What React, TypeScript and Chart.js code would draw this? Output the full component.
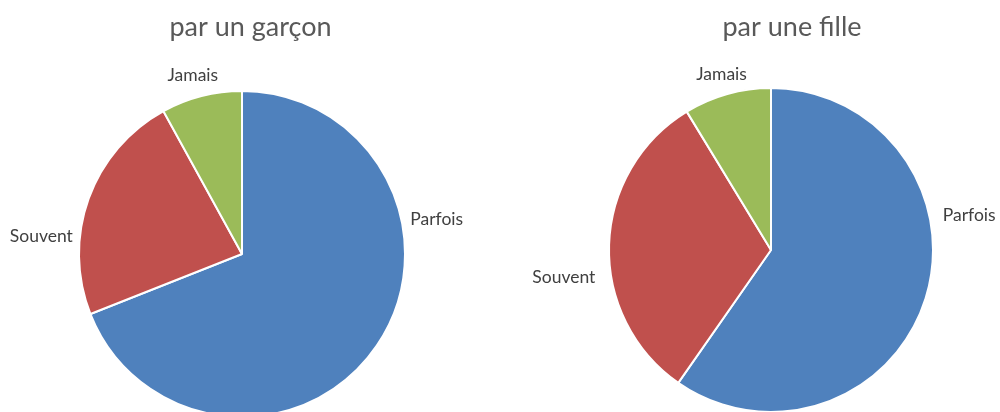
import React, { useEffect, useRef } from "react";
import { Chart, registerables } from "chart.js";

Chart.register(...registerables);

// ---- Data ----
const categories = ["Parfois", "Souvent", "Jamais"];
const garconValues = [69, 23, 8];
const filleValues = [59.7, 31.6, 8.7];
const titles = ["par un garçon", "par une fille"];
const sliceColors = ["#4F81BD", "#C0504D", "#9BBB59"];

const FONT = "Lato, 'Open Sans', 'DejaVu Sans', sans-serif";

type Placement = { angle: number; gap: number };

const pieLabelsPlugin = {
  id: "pieLabels",
  afterDraw(chart: any, _args: any, opts: any) {
    const ctx = chart.ctx as CanvasRenderingContext2D;
    const meta = chart.getDatasetMeta(0);
    ctx.save();
    if (opts.title) {
      ctx.font = `${opts.titleSize}px ${FONT}`;
      ctx.fillStyle = opts.titleColor;
      ctx.textAlign = "center";
      ctx.textBaseline = "alphabetic";
      ctx.fillText(opts.title, opts.titleX, opts.titleBaseline);
    }
    ctx.font = `${opts.labelSize}px ${FONT}`;
    ctx.fillStyle = opts.labelColor;
    ctx.textAlign = "center";
    ctx.textBaseline = "middle";
    meta.data.forEach((arc: any, i: number) => {
      const p: Placement = opts.placements[i];
      const { x, y, outerRadius } = arc.getProps(["x", "y", "outerRadius"], true);
      const a = (p.angle * Math.PI) / 180;
      const d = outerRadius + p.gap;
      ctx.fillText(String(chart.data.labels[i]), x + d * Math.sin(a), y - d * Math.cos(a));
    });
    ctx.restore();
  },
};

type PieProps = {
  values: number[];
  title: string;
  left: number;
  width: number;
  height: number;
  padding: { top: number; left: number; right: number; bottom: number };
  radius: number;
  titleX: number;
  titleBaseline: number;
  placements: Placement[];
};

function PieChart(props: PieProps) {
  const ref = useRef<HTMLCanvasElement | null>(null);
  useEffect(() => {
    if (!ref.current) return;
    const chart = new Chart(ref.current, {
      type: "pie",
      data: {
        labels: categories,
        datasets: [
          {
            data: props.values,
            backgroundColor: sliceColors,
            borderColor: "#ffffff",
            borderWidth: 2,
            radius: props.radius,
          } as any,
        ],
      },
      options: {
        responsive: false,
        animation: false,
        layout: { padding: props.padding },
        plugins: {
          legend: { display: false },
          tooltip: { enabled: false },
          title: { display: false },
          pieLabels: {
            title: props.title,
            titleX: props.titleX,
            titleBaseline: props.titleBaseline,
            titleSize: 27,
            titleColor: "#595959",
            labelSize: 17.5,
            labelColor: "#404040",
            placements: props.placements,
          },
        } as any,
      },
      plugins: [pieLabelsPlugin],
    });
    return () => chart.destroy();
  }, []);
  return (
    <canvas
      ref={ref}
      width={props.width}
      height={props.height}
      style={{ position: "absolute", left: props.left, top: 0, width: props.width, height: props.height }}
    />
  );
}

export default function App() {
  return (
    <div
      style={{
        position: "fixed",
        left: 0,
        top: 0,
        width: 1000,
        height: 412,
        overflow: "hidden",
        background: "#ffffff",
      }}
    >
      <PieChart
        values={garconValues}
        title={titles[0]}
        left={0}
        width={500}
        height={464}
        padding={{ top: 44, left: 0, right: 16, bottom: 0 }}
        radius={163}
        titleX={250.5}
        titleBaseline={36}
        placements={[
          { angle: 79.8, gap: 34.8 },
          { angle: 274.9, gap: 38.4 },
          { angle: 344.6, gap: 22.1 },
        ]}
      />
      <PieChart
        values={filleValues}
        title={titles[1]}
        left={500}
        width={500}
        height={460}
        padding={{ top: 40, left: 42, right: 0, bottom: 0 }}
        radius={162}
        titleX={292}
        titleBaseline={36}
        placements={[
          { angle: 80.1, gap: 39.2 },
          { angle: 262.4, gap: 47 },
          { angle: 344.3, gap: 20.6 },
        ]}
      />
    </div>
  );
}
